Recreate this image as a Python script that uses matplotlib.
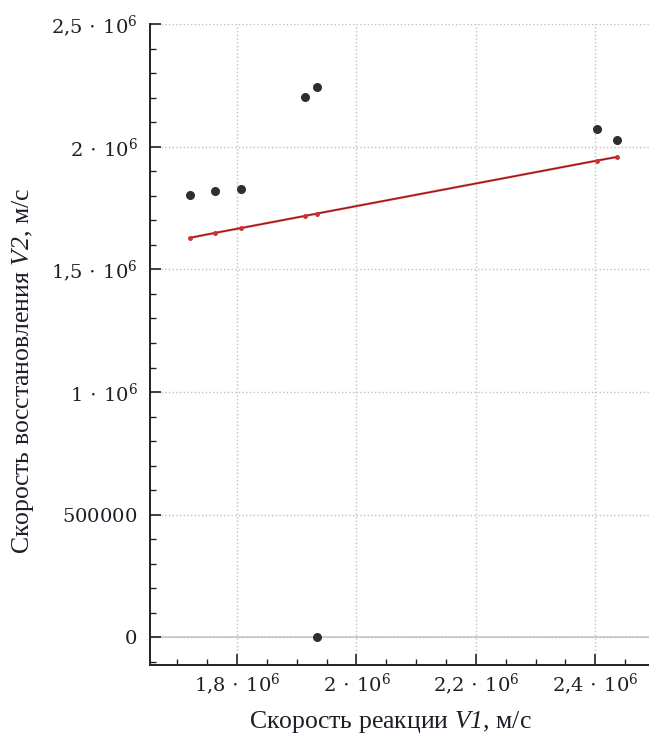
import matplotlib.pyplot as plt
from matplotlib.ticker import MultipleLocator

plt.rcParams['font.family'] = 'Liberation Serif'
plt.rcParams['mathtext.fontset'] = 'custom'
plt.rcParams['mathtext.rm'] = 'DejaVu Serif'
plt.rcParams['mathtext.sf'] = 'Liberation Serif:italic'  # курсив для V1, V2 (вместе с цифрами)

# скорость реакции V1 и скорость восстановления V2, м/с
v1 = [1.721e6, 1.763e6, 1.807e6, 1.913e6, 1.934e6, 2.403e6, 2.437e6, 1.934e6]
v2 = [1.804e6, 1.821e6, 1.829e6, 2.204e6, 2.245e6, 2.073e6, 2.029e6, 0.0]

# линейная аппроксимация
fit_x = [1.721e6, 1.763e6, 1.807e6, 1.913e6, 1.934e6, 2.403e6, 2.437e6]
fit_y = [1.629e6, 1.649e6, 1.669e6, 1.718e6, 1.728e6, 1.944e6, 1.959e6]

x_ticks = [1.8e6, 2.0e6, 2.2e6, 2.4e6]
x_labels = [r'$1{,}8\,\cdot\,10^{6}$', r'$2\,\cdot\,10^{6}$',
            r'$2{,}2\,\cdot\,10^{6}$', r'$2{,}4\,\cdot\,10^{6}$']
y_ticks = [0, 500000, 1.0e6, 1.5e6, 2.0e6, 2.5e6]
y_labels = [r'$0$', r'$500000$', r'$1\,\cdot\,10^{6}$', r'$1{,}5\,\cdot\,10^{6}$',
            r'$2\,\cdot\,10^{6}$', r'$2{,}5\,\cdot\,10^{6}$']

fig = plt.figure(figsize=(6.49, 7.35), dpi=100)
ax = fig.add_axes([0.231, 0.095, 0.769, 0.872])

ax.axhline(0, color='#c8c8c8', linewidth=1.2, zorder=1)
ax.plot(fit_x, fit_y, color='#d83a3a', linewidth=1.6, zorder=2)
ax.plot(fit_x, fit_y, color='#6a1010', linewidth=0.5, marker='o', markersize=2.5,
        markerfacecolor='#d03030', markeredgecolor='#d03030', zorder=3)
ax.scatter(v1, v2, s=30, color='#2e2e2e', zorder=4)

ax.set_xlim(1.654e6, 2.49e6)
ax.set_ylim(-0.114e6, 2.5e6)

ax.set_xticks(x_ticks)
ax.set_xticklabels(x_labels, fontsize=14)
ax.set_yticks(y_ticks)
ax.set_yticklabels(y_labels, fontsize=14)
ax.xaxis.set_minor_locator(MultipleLocator(0.05e6))
ax.yaxis.set_minor_locator(MultipleLocator(0.1e6))
ax.tick_params(which='major', direction='in', length=8, width=1.2, pad=9,
               colors='#222222', labelcolor='#1e1e28')
ax.tick_params(axis='x', which='major', pad=5)
ax.tick_params(which='minor', direction='in', length=4, width=1.0, colors='#222222')

for s in ['top', 'right']:
    ax.spines[s].set_visible(False)
for s in ['left', 'bottom']:
    ax.spines[s].set_linewidth(1.4)
    ax.spines[s].set_color('#222222')

ax.grid(which='major', linestyle=':', color='#c0c0c0', linewidth=1.0)

# подписи осей
fig.text(0.601, 0.018, 'Скорость реакции $\\mathsf{V1}$, м/с', fontsize=18.5,
         ha='center', va='center', color='#1e1e28')
fig.text(0.036, 0.495, 'Скорость восстановления $\\mathsf{V2}$, м/с', fontsize=18.5,
         ha='center', va='center', rotation=90, color='#1e1e28')

fig.savefig('out.png')
